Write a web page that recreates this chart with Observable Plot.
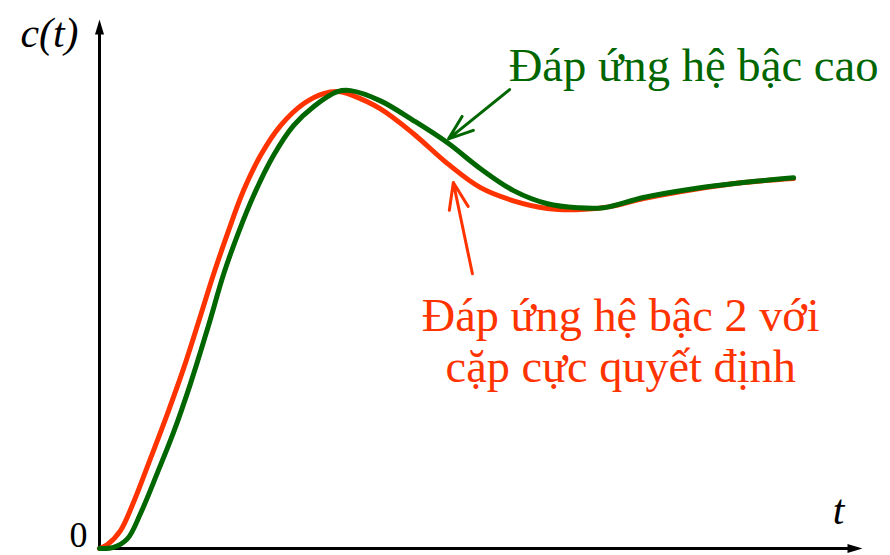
<!DOCTYPE html>
<html>
<head>
<meta charset="utf-8">
<script src="https://cdn.jsdelivr.net/npm/d3@7"></script>
<script src="https://cdn.jsdelivr.net/npm/@observablehq/plot@0.6"></script>
<style>
  html, body { margin: 0; padding: 0; background: #fff; }
  #chart { width: 890px; height: 555px; overflow: hidden; }
</style>
</head>
<body>
<div id="chart"></div>
<script>
// Step response of a second-order system with dominant pole pair (red)
const tSecond = [0, 0.084, 0.22, 0.356, 0.535, 0.713, 0.881, 1.059, 1.195, 1.342, 1.51, 1.688, 1.898, 2.139,
  2.349, 2.527, 2.632, 2.946, 3.292, 3.649, 3.995, 4.341, 4.697, 5.043, 5.358, 5.704, 6.228, 6.752, 7.277];
const cSecond = [0, 0.011, 0.049, 0.126, 0.247, 0.37, 0.493, 0.638, 0.751, 0.863, 0.981, 1.077, 1.159, 1.219,
  1.247, 1.252, 1.244, 1.205, 1.137, 1.055, 0.989, 0.953, 0.932, 0.929, 0.937, 0.959, 0.984, 1.003, 1.014];

// Step response of the higher-order system (green)
const tHigh = [0, 0.147, 0.294, 0.43, 0.608, 0.776, 0.954, 1.143, 1.3, 1.457, 1.615, 1.824, 2.034, 2.244,
  2.495, 2.632, 2.946, 3.292, 3.649, 3.995, 4.341, 4.697, 5.012, 5.284, 5.704, 6.228, 6.752, 7.277];
const cHigh = [0, 0.003, 0.027, 0.096, 0.208, 0.318, 0.452, 0.611, 0.751, 0.866, 0.967, 1.077, 1.159, 1.211,
  1.252, 1.255, 1.227, 1.173, 1.112, 1.041, 0.981, 0.945, 0.934, 0.934, 0.962, 0.986, 1.003, 1.016];

// Text
const labelHigh = "Đáp ứng hệ bậc cao";
const labelSecond = ["Đáp ứng hệ bậc 2 với", "cặp cực quyết định"];
const yLabel = "c(t)";
const xLabel = "t";
const originLabel = "0";

// Axis extents
const tMax = 8;
const cMax = 1.45;

const RED = "#ff3300";
const GREEN = "#006600";

// Prefer a Times-like face; fall back to whatever serif/sans is installed
const measureCtx = document.createElement("canvas").getContext("2d");
function installed(name) {
  const probe = "Đáp ứng hệ bậc cao mmmwwwiiil 0123";
  for (const base of ["monospace", "sans-serif", "cursive"]) {
    measureCtx.font = `40px ${base}`;
    const w0 = measureCtx.measureText(probe).width;
    measureCtx.font = `40px "${name}", ${base}`;
    if (measureCtx.measureText(probe).width !== w0) return true;
  }
  return false;
}
const candidates = ["Liberation Serif", "Times New Roman", "Tinos", "Noto Serif", "DejaVu Serif", "FreeSerif",
  "Nimbus Roman", "Liberation Sans"];
const FAMILY = (candidates.find(installed) ?? "serif");
const FONT = `"${FAMILY}", serif`;

// Font size that gives a text line the wanted width
function fitSize(text, width, style = "normal") {
  measureCtx.font = `${style} 100px ${FONT}`;
  return 100 * width / measureCtx.measureText(text).width;
}
const sizeHigh = fitSize(labelHigh, 370);
const sizeSecond = fitSize(labelSecond[0], 398);
const sizeAxis = Math.min(44, fitSize(yLabel, 58, "italic"));

const second = tSecond.map((t, i) => ({t, c: cSecond[i]}));
const high = tHigh.map((t, i) => ({t, c: cHigh[i]}));

// Filled arrowheads for the axes; tip sits at the anchor point
const headUp = {draw(ctx) { ctx.moveTo(0, 0); ctx.lineTo(4.5, 15); ctx.lineTo(-4.5, 15); ctx.closePath(); }};
const headRight = {draw(ctx) { ctx.moveTo(0, 0); ctx.lineTo(-15, 4.5); ctx.lineTo(-15, -4.5); ctx.closePath(); }};

// Callout arrows (tail -> tip), in data units
const calloutHigh = {x1: 4.3, y1: 1.258, x2: 3.66, y2: 1.123};
const calloutSecond = {x1: 3.91, y1: 0.753, x2: 3.71, y2: 1.003};

const chart = Plot.plot({
  width: 890,
  height: 555,
  marginLeft: 99,
  marginRight: 28,
  marginTop: 19,
  marginBottom: 7,
  style: {fontFamily: FONT, background: "#fff"},
  x: {domain: [0, tMax], axis: null},
  y: {domain: [0, cMax], axis: null},
  marks: [
    // axes
    Plot.ruleY([0], {x1: 0, x2: tMax - 0.1, stroke: "black", strokeWidth: 3}),
    Plot.ruleX([0], {y1: 0, y2: cMax - 0.03, stroke: "black", strokeWidth: 3}),
    Plot.dot([{t: tMax, c: 0}], {x: "t", y: "c", symbol: headRight, fill: "black", stroke: "none"}),
    Plot.dot([{t: 0, c: cMax}], {x: "t", y: "c", symbol: headUp, fill: "black", stroke: "none"}),

    // responses
    Plot.line(second, {x: "t", y: "c", stroke: RED, strokeWidth: 5, curve: "catmull-rom"}),
    Plot.line(high, {x: "t", y: "c", stroke: GREEN, strokeWidth: 5, curve: "catmull-rom"}),

    // callouts
    Plot.arrow([calloutHigh], {x1: "x1", y1: "y1", x2: "x2", y2: "y2", stroke: GREEN, strokeWidth: 3, headLength: 14, headAngle: 40}),
    Plot.arrow([calloutSecond], {x1: "x1", y1: "y1", x2: "x2", y2: "y2", stroke: RED, strokeWidth: 3, headLength: 14, headAngle: 40}),

    Plot.text([labelHigh], {x: () => 4.29, y: () => 1.282, text: d => d, textAnchor: "start", lineAnchor: "bottom",
      fill: GREEN, fontSize: sizeHigh, fontFamily: FONT}),
    Plot.text([labelSecond.join("\n")], {x: () => 5.465, y: () => 0.4575, text: d => d, textAnchor: "middle", lineAnchor: "bottom",
      lineHeight: 51 / sizeSecond, fill: RED, fontSize: sizeSecond, fontFamily: FONT}),

    // axis labels
    Plot.text([yLabel], {x: () => -0.22, y: () => 1.375, text: d => d, textAnchor: "end", lineAnchor: "bottom",
      fill: "black", fontSize: sizeAxis, fontStyle: "italic", fontFamily: FONT}),
    Plot.text([xLabel], {x: () => 7.75, y: () => 0.0685, text: d => d, textAnchor: "middle", lineAnchor: "bottom",
      fill: "black", fontSize: sizeAxis, fontStyle: "italic", fontFamily: FONT}),
    Plot.text([originLabel], {x: () => -0.22, y: () => 0.005, text: d => d, textAnchor: "middle", lineAnchor: "bottom",
      fill: "black", fontSize: 36, fontFamily: FONT})
  ]
});
document.getElementById("chart").appendChild(chart);
</script>
</body>
</html>
